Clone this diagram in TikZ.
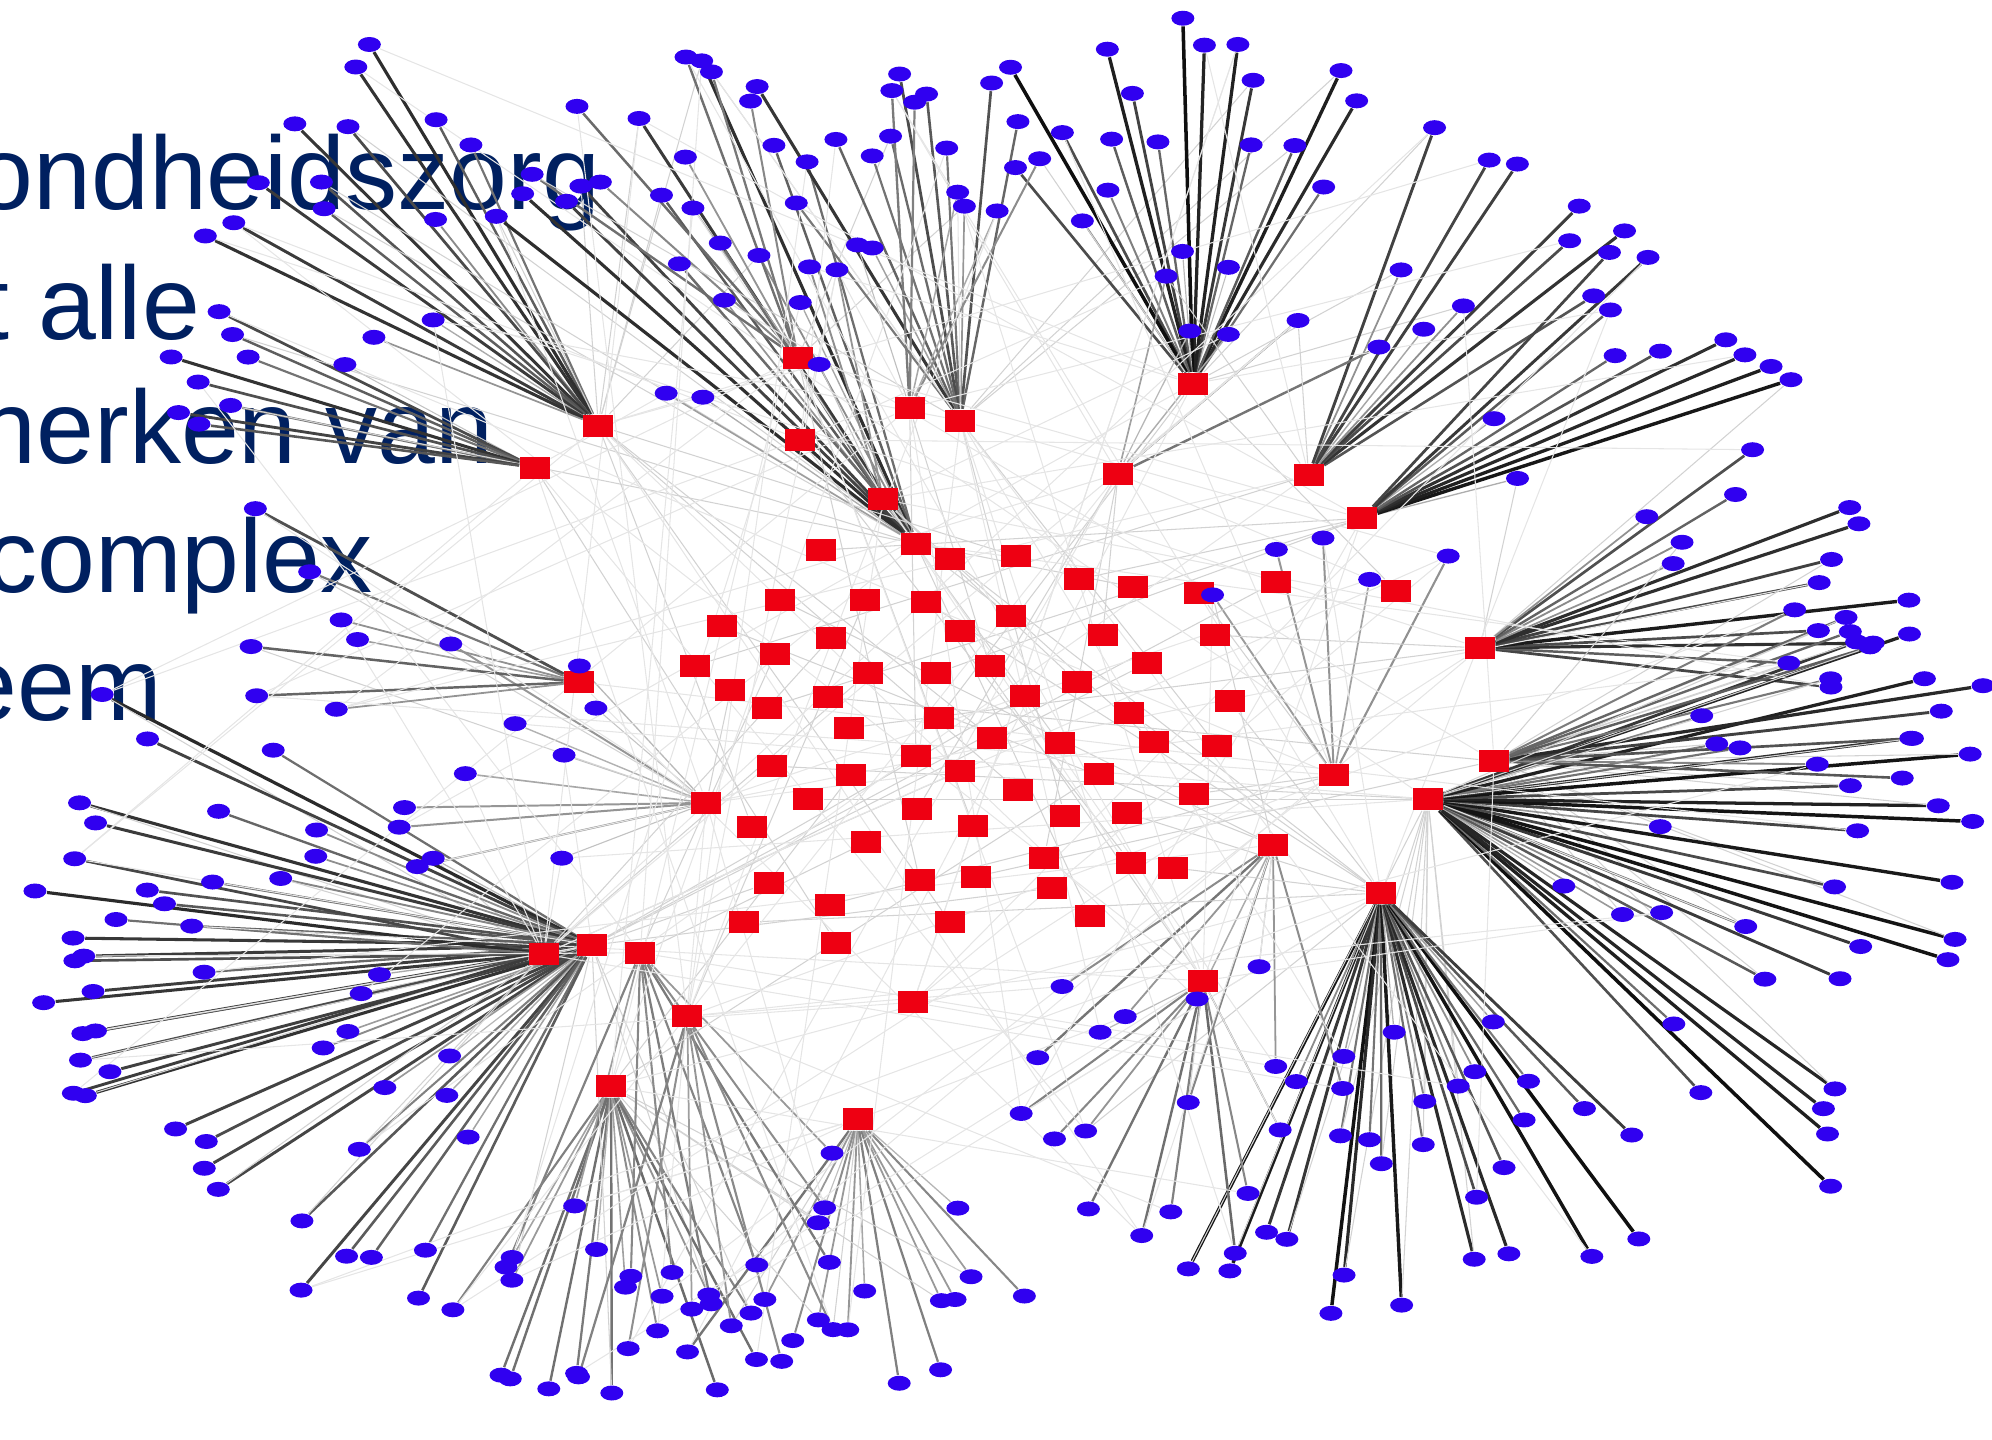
\documentclass[tikz,border=0pt]{standalone}
\usepackage{fontspec}
\setmainfont{Liberation Sans}
\usetikzlibrary{shapes.geometric,calc}

\definecolor{titleblue}{RGB}{0,32,96}
\definecolor{dotblue}{RGB}{48,0,240}
\definecolor{boxred}{RGB}{238,0,18}

\pgfdeclarelayer{back}
\pgfdeclarelayer{edges}
\pgfsetlayers{back,edges,main}

\tikzset{
  actor/.style={rectangle, fill=boxred, minimum width=3.0mm, minimum height=2.2mm, inner sep=0pt},
  member/.style={ellipse, fill=dotblue, minimum width=2.3mm, minimum height=1.5mm, inner sep=0pt},
  faint/.style={gray!35, line width=0.3pt},
  web/.style={gray!20, line width=0.3pt},
  slogan/.style={text=titleblue, font=\fontsize{29.6}{36}\selectfont, anchor=base east, inner sep=0pt}
}

% hub / angles / radii / members / second hub / darkness
\def\fanlist{
    1/h1/150/175/160/320/9/h3/90, 2/h2/112/160/100/380/14/h3/90,
    3/h3/105/150/150/430/14/h2/85, 4/h4/78/128/90/310/12/h21/80,
    5/h5/55/130/80/290/20/h4/95, 6/h6/30/72/90/330/10/h5/85,
    7/h7/12/48/80/370/11/h8/95, 8/h8/-8/40/80/340/14/h19/90,
    9/h9/-48/22/80/440/30/h19/95, 10/h10/-118/-42/70/340/28/h9/95,
    11/h11/148/200/100/440/24/h14/85, 12/h11/200/245/100/360/16/h14/75,
    13/h12/232/305/80/260/16/h11/60, 14/h13/232/322/60/230/14/h12/55,
    15/h14/165/200/250/420/8/h11/90, 16/h15/200/300/60/220/10/h10/60,
    17/h16/205/290/60/250/8/h15/55, 18/h17/130/205/90/260/10/h11/45,
    19/h18/150/190/110/290/7/h17/70, 20/h19/-5/28/150/390/10/h9/85,
    21/h20/60/130/70/200/5/h16/45, 22/h21/95/150/70/270/8/h4/60,
    23/h22/55/110/110/260/6/h5/55, 24/h23/245/320/100/300/9/h12/55,
    25/h24/250/300/120/300/6/h13/50, 26/h27/95/135/100/250/5/h3/60,
    27/h28/20/80/90/230/5/h6/55}

\begin{document}
\begin{tikzpicture}[x=0.12704mm, y=-0.12704mm]
\useasboundingbox (0,0) rectangle (1568,1133);

% slogan, cut off at the left edge
\begin{pgfonlayer}{back}
\begin{scope}
  \clip (0,0) rectangle (1568,1133);
  \node[slogan] (line1) at (473,165) {ondheidszorg};
  \node[slogan] (line2) at (158,267) {t alle};
  \node[slogan] (line3) at (389,365) {herken van};
  \node[slogan] (line4) at (294,466) {complex};
  \node[slogan] (line5) at (128,567) {eem};
\end{scope}
\end{pgfonlayer}

% hubs
\foreach \nm/\x/\y in {h1/421/368, h2/471/335, h3/721/428, h4/756/331, h5/939/302,
    h6/1030/374, h7/1072/408, h8/1165/510, h9/1124/629, h10/1087/703,
    h11/466/744, h12/481/855, h13/675/881, h14/428/751, h15/947/772,
    h16/1002/665, h17/556/632, h18/456/537, h19/1176/599, h20/1050/610,
    h21/628/282, h22/716/321, h23/504/750, h24/541/800, h25/719/789,
    h26/630/346, h27/695/393, h28/880/373}
  \node[actor] (\nm) at (\x,\y) {};

% other organisations in the middle
\foreach \x/\y [count=\i] in {646/433, 748/440, 800/438, 849/456, 892/462, 944/467,
    1004/458, 1099/465, 614/472, 681/472, 729/474, 568/493, 796/485, 756/497,
    868/500, 956/500, 547/524, 610/515, 654/502, 683/530, 737/530, 779/524,
    575/543, 604/557, 652/549, 807/548, 848/537, 903/522, 968/552, 739/565,
    668/573, 781/581, 834/585, 889/561, 908/584, 958/587, 608/603, 670/610,
    721/595, 756/607, 865/609, 636/629, 592/651, 722/637, 801/622, 940/625,
    682/663, 766/650, 838/642, 887/640, 605/695, 653/712, 724/693, 768/690,
    822/675, 828/699, 890/679, 923/683, 586/726, 658/742, 748/726, 858/721}
  \node[actor] (s\i) at (\x,\y) {};

% members around the hubs
\pgfmathsetseed{31}
\foreach \g/\hub/\amin/\amax/\rmin/\rmax/\cnt/\alt/\dk in \fanlist {
  \expandafter\xdef\csname fancnt\g\endcsname{\cnt}
  \foreach \k in {1,...,\cnt}{
    \pgfmathsetmacro\ang{(\amin)+(\k-0.5+0.7*(rnd-0.5))*((\amax)-(\amin))/\cnt}
    \pgfmathsetmacro\pos{sqrt(rnd)}
    \pgfmathsetmacro\rad{\rmin+\pos*(\rmax-\rmin)}
    \pgfmathtruncatemacro\extra{rnd<0.3?1:0}
    \node[member] (g\g-\k) at ($(\hub)+({\rad*cos(\ang)},{-\rad*sin(\ang)})$) {};
  }
}

% ties, same random sequence again
\begin{pgfonlayer}{edges}
\pgfmathsetseed{31}
\foreach \g/\hub/\amin/\amax/\rmin/\rmax/\cnt/\alt/\dk in \fanlist {
  \foreach \k in {1,...,\cnt}{
    \pgfmathsetmacro\ang{(\amin)+(\k-0.5+0.7*(rnd-0.5))*((\amax)-(\amin))/\cnt}
    \pgfmathsetmacro\pos{sqrt(rnd)}
    \pgfmathsetmacro\rad{\rmin+\pos*(\rmax-\rmin)}
    \pgfmathtruncatemacro\extra{rnd<0.3?1:0}
    \pgfmathtruncatemacro\dark{20+(\dk-20)*\pos}
    \pgfmathsetmacro\lwd{0.25+0.8*\pos*\dk/100}
    \draw[black!\dark, line width=\lwd pt] (\hub) -- (g\g-\k);
    \ifnum\extra=1 \draw[faint] (\alt) -- (g\g-\k); \fi
  }
}
\foreach \i in {1,...,62}{
  \pgfmathrandominteger{\hh}{1}{28}
  \draw[faint] (s\i) -- (h\hh);
}
% light web across the whole network
\foreach \i in {1,...,140}{
  \pgfmathrandominteger{\gg}{1}{27}
  \pgfmathrandominteger{\kk}{1}{\csname fancnt\gg\endcsname}
  \pgfmathrandominteger{\hh}{1}{28}
  \draw[web] (h\hh) -- (g\gg-\kk);
}
\end{pgfonlayer}

\end{tikzpicture}
\end{document}
